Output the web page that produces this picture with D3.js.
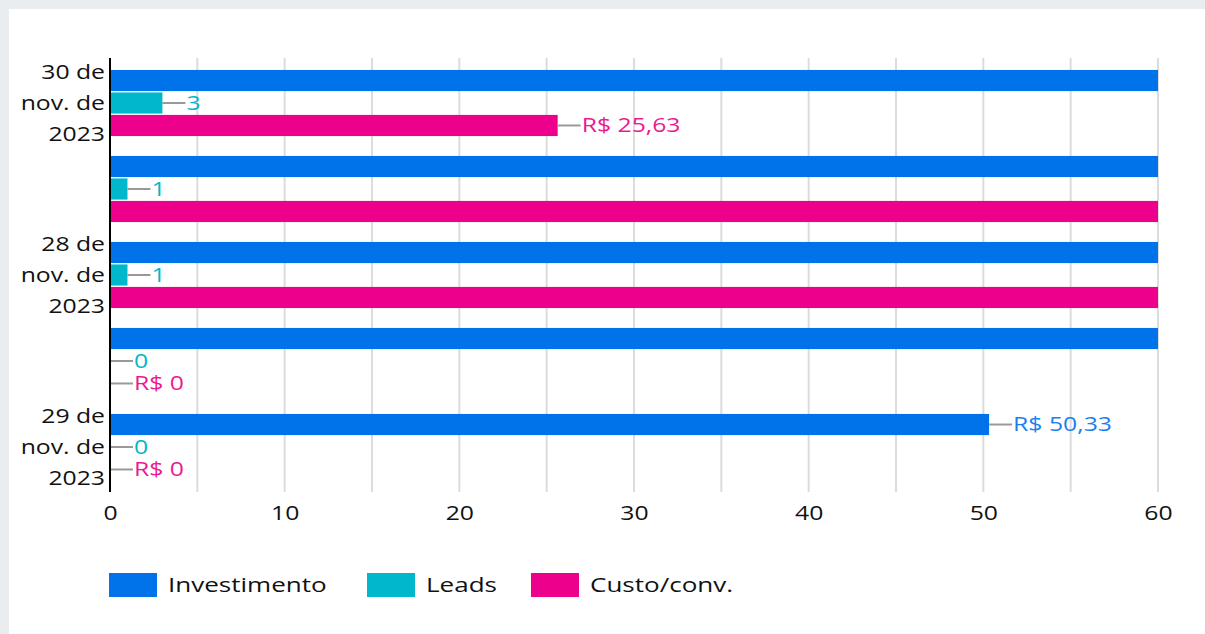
<!DOCTYPE html>
<html><head><meta charset="utf-8">
<script src="https://cdn.jsdelivr.net/npm/d3@7"></script>
<style>
html,body{margin:0;padding:0;background:#e9edf0;}
svg{display:block;}
text{font-family:"Open Sans",sans-serif;}
</style></head>
<body>
<svg id="c" width="1205" height="634"></svg>
<script>
const categories = ["30 de nov. de 2023","1 de dez. de 2023","28 de nov. de 2023","27 de nov. de 2023","29 de nov. de 2023"];
const showLabel = [true,false,true,false,true];
const investimento = [76.89, 72.40, 65.10, 62.50, 50.33];
const leads = [3, 1, 1, 0, 0];
const custoConv = [25.63, 72.40, 65.10, 0, 0];
const seriesNames = ["Investimento","Leads","Custo/conv."];
const seriesColors = ["#0073ea","#00b7cb","#ec008c"];
const labelColors = ["#1a7ff0","#00b7cb","#ec1a92"];
const xTicks = [0,10,20,30,40,50,60];
const gridTicks = [0,5,10,15,20,25,30,35,40,45,50,55,60];

const SX = 1.27;
const fmtMoney = v => "R$ " + (v===0 ? "0" : d3.format(".2f")(v).replace(".",","));
const fmtNum = v => String(v);
const formats = [fmtMoney, fmtNum, fmtMoney];

const svg = d3.select("#c");
svg.append("rect").attr("x",9).attr("y",9).attr("width",1196).attr("height",625).attr("fill","#fff");

function txt(g, x, y, s, size, fill, anchor){
  return g.append("text")
    .attr("transform",`translate(${x},${y}) scale(${SX},1)`)
    .attr("dy","0.35em").attr("text-anchor",anchor||"start")
    .attr("font-size",size).attr("fill",fill).text(s);
}

const x = d3.scaleLinear().domain([0,60]).range([110,1158]);
const y0 = d3.scaleBand().domain(categories).range([60,490]).paddingInner(0.2).paddingOuter(0.1);
const y1 = d3.scaleBand().domain(seriesNames).range([0,y0.bandwidth()]).padding(0.06);

svg.append("defs").append("clipPath").attr("id","plot").append("rect")
  .attr("x",110).attr("y",50).attr("width",1048).attr("height",450);

// grid
svg.append("g").selectAll("line").data(gridTicks).join("line")
  .attr("x1",d=>x(d)).attr("x2",d=>x(d)).attr("y1",58).attr("y2",492)
  .attr("stroke","#dcdcdc").attr("stroke-width",2);

const data = categories.map((c,i)=>({cat:c, vals:[investimento[i], leads[i], custoConv[i]]}));

const bars = svg.append("g").attr("clip-path","url(#plot)");
data.forEach(d=>{
  d.vals.forEach((v,k)=>{
    bars.append("rect")
      .attr("x",x(0)).attr("y",y0(d.cat)+y1(seriesNames[k]))
      .attr("width",Math.max(0,x(v)-x(0))).attr("height",y1.bandwidth())
      .attr("fill",seriesColors[k]);
  });
});

// value labels
const lab = svg.append("g");
data.forEach(d=>{
  d.vals.forEach((v,k)=>{
    if (v > 60) return;
    const cy = y0(d.cat)+y1(seriesNames[k])+y1.bandwidth()/2;
    const xe = x(v);
    lab.append("line").attr("x1",xe).attr("x2",xe+23).attr("y1",cy).attr("y2",cy)
      .attr("stroke","#999").attr("stroke-width",2);
    txt(lab, xe+24, cy, formats[k](v), 19.5, labelColors[k]);
  });
});

// y axis labels
const yl = svg.append("g");
categories.forEach((c,i)=>{
  if(!showLabel[i]) return;
  const cy = y0(c)+y0.bandwidth()/2;
  const parts = c.split(" ");
  const lines = [parts[0]+" "+parts[1], parts[2]+" "+parts[3], parts[4]];
  lines.forEach((t,j)=>{
    txt(yl, 105, cy+(j-1)*31, t, 19.5, "#111", "end");
  });
});
svg.append("line").attr("x1",110).attr("x2",110).attr("y1",58).attr("y2",492)
  .attr("stroke","#000").attr("stroke-width",2);

// x axis
const xa = svg.append("g").attr("transform","translate(0,492)")
  .call(d3.axisBottom(x).tickValues(xTicks).tickSize(0).tickPadding(14));
xa.select(".domain").remove();
xa.selectAll("text").attr("font-size",19.5).attr("fill","#111")
  .attr("font-family","'Open Sans',sans-serif").attr("transform",`scale(${SX},1)`);

// legend
const legX = [109,367,531];
seriesNames.forEach((s,k)=>{
  svg.append("rect").attr("x",legX[k]).attr("y",573).attr("width",48).attr("height",24).attr("fill",seriesColors[k]);
  txt(svg, legX[k]+59, 585, s, 20.5, "#111");
});
</script>
</body></html>
